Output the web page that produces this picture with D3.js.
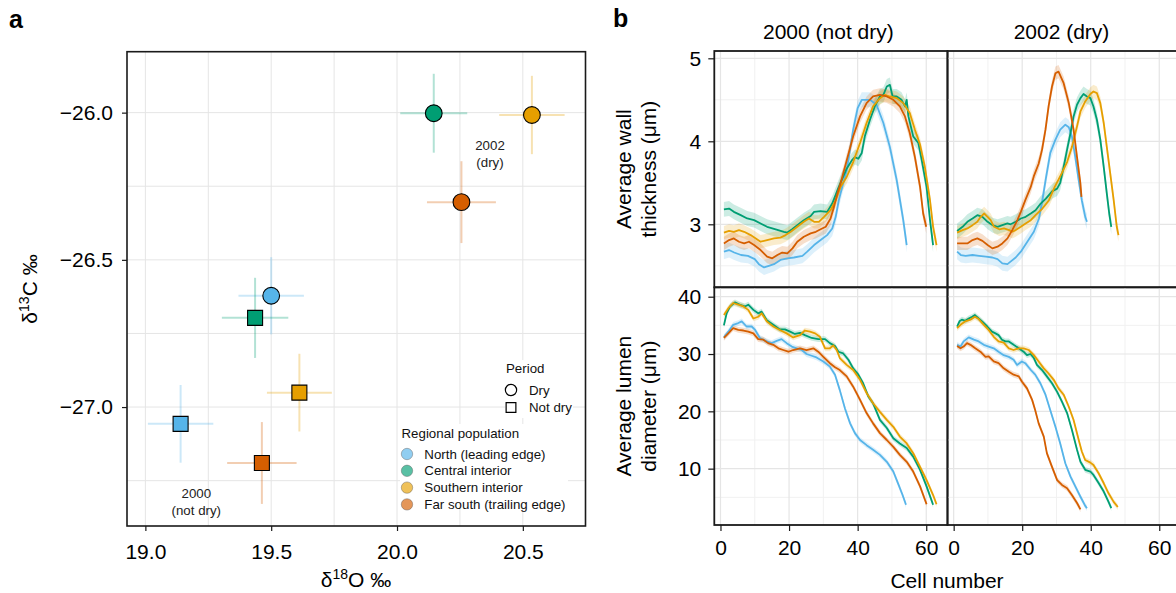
<!DOCTYPE html>
<html>
<head>
<meta charset="utf-8">
<script src="https://cdn.jsdelivr.net/npm/d3@7"></script>
<style>
  html, body { margin: 0; padding: 0; background: #fff; }
  svg { display: block; font-family: "Liberation Sans", Arial, Helvetica, sans-serif; }
</style>
</head>
<body>
<svg id="chart" width="1176" height="593"></svg>
<script>
(function () {
"use strict";

/* ---- data ---- */
var regions = ["North (leading edge)", "Central interior", "Southern interior", "Far south (trailing edge)"],
    regionColors = ["#56B4E9", "#009E73", "#E69F00", "#D55E00"],
    periods = ["Dry", "Not dry"],
    years = ["2000 (not dry)", "2002 (dry)"];

/* panel a: isotope means by region (dry = 2002, not dry = 2000) */
var dry18O   = [19.50, 20.146, 20.536, 20.256],
    dry13C   = [-26.622, -26.002, -26.008, -26.304],
    dry18Oerr = [0.13, 0.133, 0.13, 0.137],
    dry13Cerr = [0.131, 0.134, 0.133, 0.139],
    wet18O   = [19.14, 19.436, 19.612, 19.463],
    wet13C   = [-27.057, -26.697, -26.951, -27.19],
    wet18Oerr = [0.13, 0.132, 0.129, 0.138],
    wet13Cerr = [0.132, 0.136, 0.132, 0.139];

var xTicksA = [19.0, 19.5, 20.0, 20.5],
    yTicksA = [-27.0, -26.5, -26.0];

/* panel b: [cell, value] per region */
var wall2000 = [
  [[1,2.67],[2.5,2.69],[4,2.66],[6,2.63],[8,2.62],[10,2.58],[11.2,2.52],[12.7,2.48],[14.1,2.50],[15.6,2.52],[17.5,2.57],[19.5,2.59],[21.4,2.60],[23.9,2.62],[25.3,2.67],[27.3,2.75],[29.2,2.81],[31.1,2.87],[32.6,2.95],[33.6,3.09],[34.5,3.29],[35.5,3.45],[36.8,3.65],[38.7,4.14],[40,4.40],[41.2,4.50],[43.6,4.50],[45.5,4.44],[47.5,4.22],[49.4,3.93],[51.4,3.53],[53.3,3.05],[54.3,2.75]],
  [[1,3.18],[2.5,3.19],[3.9,3.15],[5.9,3.11],[7.8,3.07],[9.8,3.05],[11.7,3.01],[13.6,2.97],[16.1,2.94],[18.5,2.91],[19.5,2.90],[20.9,2.94],[22.4,2.99],[24.3,3.05],[26.3,3.10],[27.3,3.15],[29.2,3.16],[31.1,3.15],[32.6,3.25],[34.1,3.41],[35.3,3.53],[36.8,3.67],[38.3,3.77],[39.2,3.81],[40.2,3.79],[41.2,3.86],[42.1,4.06],[43.6,4.26],[45,4.42],[46.5,4.54],[47.5,4.56],[48.5,4.66],[49.4,4.68],[50.2,4.54],[51.4,4.54],[52.8,4.50],[53.8,4.42],[54.3,4.50],[54.8,4.30],[56.2,4.06],[57.7,3.98],[58.7,3.77],[60.1,3.45],[61.1,3.05],[62,2.75]],
  [[1,2.90],[2.5,2.92],[3.9,2.91],[5.4,2.93],[6.9,2.91],[8.8,2.87],[10.3,2.83],[11.7,2.79],[13.6,2.81],[15.6,2.83],[17.5,2.84],[19,2.87],[20.5,2.91],[22.4,2.97],[24.3,3.03],[25.8,3.07],[27.3,3.03],[28.7,3.03],[30.2,3.09],[32.1,3.17],[33.6,3.29],[35,3.45],[36.8,3.57],[38.7,3.75],[40.7,3.98],[42.6,4.22],[44.5,4.42],[46.5,4.52],[48,4.56],[49.4,4.54],[51.4,4.52],[53.3,4.46],[55.2,4.34],[56.7,4.14],[58.2,3.96],[59.6,3.69],[61.1,3.29],[62,2.97],[63,2.75]],
  [[1,2.77],[2.5,2.81],[3.9,2.83],[5.4,2.79],[6.9,2.77],[8.3,2.79],[9.8,2.75],[11.7,2.69],[13.6,2.61],[15.1,2.59],[16.6,2.63],[18,2.66],[19.5,2.65],[21,2.71],[22.4,2.79],[24.3,2.85],[26.3,2.89],[27.8,2.91],[29.2,2.94],[30.7,2.97],[32.1,3.07],[33.1,3.21],[34.1,3.37],[35,3.49],[36.8,3.77],[38.7,4.06],[40.7,4.30],[42.6,4.46],[44.5,4.54],[46.5,4.56],[48.5,4.54],[50.4,4.50],[52.3,4.42],[53.8,4.30],[55.2,4.10],[56.7,3.81],[58.2,3.45],[59.1,3.13],[60,2.97]]
];

var wall2002 = [
  [[1,2.67],[2.1,2.63],[3.5,2.62],[5.5,2.63],[7.4,2.62],[9.4,2.61],[11.3,2.60],[12.8,2.58],[14.2,2.53],[15.7,2.52],[16.6,2.55],[18.1,2.60],[19.6,2.67],[21.5,2.79],[23.4,2.91],[24.9,3.07],[25.9,3.29],[26.9,3.55],[28.2,3.86],[29.7,4.02],[31.1,4.14],[32.6,4.20],[33.6,4.17],[34.5,4.06],[35.5,3.81],[36.5,3.53],[37.4,3.29],[38.4,3.09],[38.9,3.03]],
  [[1,2.92],[2.6,2.97],[4,3.03],[5.5,3.07],[6.9,3.11],[8.4,3.09],[9.9,3.03],[11.3,2.99],[12.8,2.97],[14.2,2.99],[15.7,3.01],[16.6,3.00],[18.1,3.03],[19.6,3.07],[21,3.09],[22.5,3.13],[23.9,3.17],[25.4,3.25],[26.9,3.31],[28.8,3.40],[30.2,3.43],[31.1,3.50],[32.1,3.69],[33.1,3.90],[34.1,4.10],[35,4.30],[36,4.44],[37,4.52],[37.9,4.57],[38.9,4.54],[39.9,4.52],[40.8,4.42],[41.8,4.26],[42.8,4.02],[43.8,3.69],[44.7,3.37],[45.4,3.13],[46,2.97]],
  [[1,2.90],[2.6,2.93],[4,2.95],[5.5,2.99],[6.9,3.03],[7.9,3.09],[8.9,3.13],[9.9,3.09],[10.8,3.05],[11.8,2.97],[13.3,2.94],[14.7,2.95],[16.2,2.93],[17.1,2.91],[18.1,2.93],[19.6,2.97],[21,3.01],[22.5,3.05],[23.9,3.11],[25.9,3.19],[27.8,3.29],[29.5,3.45],[31.6,3.62],[33.1,3.75],[34.5,3.93],[36,4.18],[37,4.36],[38.4,4.48],[39.9,4.57],[40.8,4.60],[41.8,4.58],[42.8,4.46],[43.8,4.22],[44.7,3.93],[45.7,3.61],[46.7,3.29],[47.6,2.97],[48.1,2.87]],
  [[1,2.77],[2.6,2.77],[4,2.77],[5.5,2.81],[6.9,2.83],[8.4,2.80],[9.9,2.75],[11.3,2.71],[12.8,2.73],[14.2,2.77],[15.7,2.83],[17.1,2.93],[18.6,3.05],[19.6,3.15],[21,3.30],[22.5,3.45],[23.4,3.58],[24.8,3.73],[25.8,3.90],[26.8,4.14],[27.7,4.42],[28.7,4.66],[29.7,4.82],[30.6,4.84],[32.1,4.70],[33.6,4.46],[35,4.14],[36,3.81],[37,3.49],[37.3,3.33]]
];

var lumen2000 = [
  [[1,32.9],[2.3,33.9],[3.7,35.1],[5.2,35.4],[6.2,35.7],[7.6,34.8],[9.1,34.8],[10.1,34.2],[11.5,32.8],[13.5,32.2],[14.9,31.9],[16.4,32.3],[17.8,32.6],[19.3,31.9],[20.8,31.3],[22.2,31.0],[23.7,30.7],[25.1,30.0],[26.6,29.7],[28,29.4],[30,28.7],[31.9,27.8],[33.4,26.4],[34.8,23.7],[36.3,20.5],[37.8,17.9],[39.2,16.2],[40.7,15.0],[42.6,14.1],[44.5,13.3],[46.5,12.4],[48.5,11.2],[50.4,9.5],[51.8,7.4],[53.1,5.4],[54.1,3.7]],
  [[1,35.0],[1.8,37.1],[2.8,38.3],[4.2,39.0],[5.7,38.6],[7.1,38.3],[8.1,38.6],[9.6,37.7],[11,37.1],[12,37.4],[13.5,35.9],[15.4,35.1],[17.3,34.3],[18.8,34.3],[20.3,33.9],[21.7,33.5],[23.2,33.7],[24.6,33.3],[26.6,32.8],[28.5,32.6],[30.5,32.6],[31.9,31.9],[33.4,31.4],[34.4,30.4],[35.8,30.1],[37.3,29.0],[38.7,27.5],[40.2,26.4],[41.6,24.9],[43.1,22.6],[44.5,21.4],[46.5,18.5],[48.5,17.1],[50.4,15.3],[52.3,14.4],[54.3,13.6],[56.2,12.1],[58.2,9.8],[60.1,6.9],[62,3.7]],
  [[1,36.8],[2.3,38.0],[3.7,38.9],[5.2,38.6],[6.7,38.3],[8.1,37.7],[9.6,36.2],[11,36.5],[12,37.1],[13.5,35.7],[15.4,34.8],[17.3,34.2],[19.3,33.6],[21.2,32.9],[23.2,33.3],[24.6,34.1],[26.1,33.9],[27.6,33.6],[29,33.0],[30.5,31.0],[31.9,31.0],[32.9,31.5],[33.9,30.7],[34.8,29.3],[36.8,28.1],[38.7,27.2],[40.7,25.5],[42.6,23.2],[44.5,21.4],[46.5,19.9],[48.5,18.5],[50.4,17.3],[52.3,15.6],[54.3,14.4],[56.2,12.7],[58.2,10.3],[60.1,8.0],[62,5.4],[63,3.8]],
  [[1,32.8],[2.3,33.6],[3.7,34.5],[5.2,34.2],[6.7,34.1],[8.1,33.9],[9.6,33.6],[11,32.6],[12.5,32.5],[13.9,31.9],[15.4,31.6],[16.9,31.0],[18.3,30.7],[19.8,30.4],[21.2,30.7],[23.2,31.0],[25.1,30.7],[27.1,31.0],[28.5,30.4],[30,29.5],[31.9,28.4],[33.4,27.7],[34.8,27.2],[36.8,26.1],[38.7,24.3],[40.7,22.0],[42.6,19.7],[44.5,17.9],[46.5,16.2],[48.5,15.0],[50.4,13.8],[52.3,12.4],[54.3,11.2],[56.2,9.5],[58.2,6.9],[60.1,3.8]]
];

var lumen2002 = [
  [[1,31.6],[2,31.3],[2.9,32.2],[4.4,32.9],[5.9,32.5],[7.3,32.2],[8.8,31.6],[10.2,31.3],[11.7,31.0],[13.1,30.4],[14.6,29.8],[16.1,29.5],[17.5,29.0],[18.5,28.1],[19.9,28.7],[20.9,28.4],[22.4,27.3],[23.8,26.4],[25.3,24.9],[26.8,22.9],[28.2,20.2],[29.7,17.3],[31.1,14.4],[32.6,10.9],[34.1,8.6],[35.5,6.9],[37,5.1],[38.4,3.5],[38.9,3.1]],
  [[1,34.8],[1.7,35.7],[2.4,36.0],[3.4,35.8],[4.4,36.2],[5.4,36.5],[6.2,36.8],[7.3,36.2],[8.3,35.7],[9.8,34.8],[11.2,33.9],[12.2,33.6],[13.1,33.3],[14.1,32.5],[15.1,32.2],[16.1,32.2],[17.5,31.6],[19,31.0],[20.4,30.4],[21.4,29.8],[22.4,30.0],[23.4,29.3],[24.3,28.1],[25.8,27.2],[27.2,26.1],[28.7,24.9],[30.2,23.4],[31.6,21.7],[33.1,19.7],[34.5,16.8],[36,13.3],[37,11.2],[38.4,9.8],[39.9,9.5],[40.8,8.9],[42.3,7.5],[43.8,6.0],[45.2,4.2],[46,3.1]],
  [[1,34.5],[2,35.1],[3.4,35.7],[4.9,36.0],[6.2,36.5],[7.3,36.1],[8.8,35.1],[10.2,34.2],[11.7,33.0],[13.1,32.2],[14.6,32.0],[16.1,31.0],[17.5,30.7],[19,31.0],[20.4,31.0],[21.9,30.7],[23.4,29.8],[24.8,28.7],[26.3,27.5],[27.7,26.6],[29.2,25.5],[30.6,24.0],[32.1,22.9],[33.6,20.8],[35,18.5],[36.5,15.0],[37.4,13.0],[38.4,11.5],[39.9,11.05],[40.8,10.65],[42.3,9.2],[43.8,7.45],[45.2,5.7],[46.7,4.2],[47.9,3.3]],
  [[1,31.4],[2,31.0],[2.9,31.3],[3.9,31.9],[4.9,31.6],[6.3,31.0],[7.8,30.4],[9.3,29.5],[10.2,29.6],[11.7,28.7],[13.1,28.4],[14.6,27.5],[16.1,26.9],[17.5,26.4],[19,26.1],[19.9,25.2],[21.4,24.0],[22.9,22.0],[23.8,20.2],[24.8,17.9],[26.3,15.6],[27.2,12.7],[28.7,10.3],[30.2,8.0],[31.6,7.15],[33.1,6.6],[34.5,5.4],[36,4.0],[37,2.9]]
];

/* ribbon half widths (standard error) per region */
var wallSe  = [0.09, 0.09, 0.08, 0.08],
    lumenSe = [0.5, 0.5, 0.5, 0.5];

var cellTicks = [0, 20, 40, 60],
    wallTicks = [3, 4, 5],
    lumenTicks = [10, 20, 30, 40];

/* ---- setup ---- */
var svg = d3.select("#chart"),
    ink = "#1a1a1a",
    gridMajor = "#e5e5e5",
    gridMinor = "#f1f1f1";

svg.append("rect").attr("width", 1176).attr("height", 593).attr("fill", "#fff");

/* styles an axis group produced by d3.axis */
var styleAxis = function (g, size) {
    g.select(".domain").remove();
    g.selectAll(".tick line").attr("stroke", ink).attr("stroke-width", 1.2);
    g.selectAll(".tick text")
        .attr("fill", "#000")
        .style("font-size", size + "px")
        .style("font-family", "'Liberation Sans', Arial, sans-serif");
};

/* ================= panel a ================= */
var xA = d3.scaleLinear().domain([18.927, 20.749]).range([127, 585.5]),
    yA = d3.scaleLinear().domain([-27.404, -25.793]).range([526, 51.7]),
    gA = svg.append("g");

/* grid */
gA.selectAll("line.vgrid").data(d3.range(19, 20.75, 0.25)).enter()
    .append("line")
    .attr("x1", function (d) { return xA(d); }).attr("x2", function (d) { return xA(d); })
    .attr("y1", yA.range()[0]).attr("y2", yA.range()[1])
    .attr("stroke", gridMajor).attr("stroke-width", 1);
gA.selectAll("line.hgrid").data(d3.range(-27.25, -25.9, 0.25)).enter()
    .append("line")
    .attr("y1", function (d) { return yA(d); }).attr("y2", function (d) { return yA(d); })
    .attr("x1", xA.range()[0]).attr("x2", xA.range()[1])
    .attr("stroke", gridMajor).attr("stroke-width", 1);

/* points as rows */
var isoPts = [];
regions.forEach(function (r, i) {
    isoPts.push({ region: i, period: "Dry", x: dry18O[i], y: dry13C[i], ex: dry18Oerr[i], ey: dry13Cerr[i] });
    isoPts.push({ region: i, period: "Not dry", x: wet18O[i], y: wet13C[i], ex: wet18Oerr[i], ey: wet13Cerr[i] });
});

/* error bars */
var eb = gA.append("g").attr("stroke-width", 2).attr("stroke-opacity", 0.3);
isoPts.forEach(function (p) {
    eb.append("line")
        .attr("x1", xA(p.x - p.ex)).attr("x2", xA(p.x + p.ex))
        .attr("y1", yA(p.y)).attr("y2", yA(p.y))
        .attr("stroke", regionColors[p.region]);
    eb.append("line")
        .attr("x1", xA(p.x)).attr("x2", xA(p.x))
        .attr("y1", yA(p.y - p.ey)).attr("y2", yA(p.y + p.ey))
        .attr("stroke", regionColors[p.region]);
});

/* markers */
var sym = { "Dry": d3.symbolCircle, "Not dry": d3.symbolSquare },
    symSize = { "Dry": 220, "Not dry": 225 };
gA.append("g").selectAll("path").data(isoPts).enter()
    .append("path")
    .attr("transform", function (p) { return "translate(" + xA(p.x) + "," + yA(p.y) + ")"; })
    .attr("d", function (p) { return d3.symbol().type(sym[p.period]).size(symSize[p.period])(); })
    .attr("fill", function (p) { return regionColors[p.region]; })
    .attr("stroke", "#000").attr("stroke-width", 1.1);

/* annotations */
var note = function (x, y, lines) {
    var t = gA.append("text").attr("text-anchor", "middle")
        .attr("font-size", 13.3).attr("fill", "#222");
    lines.forEach(function (l, i) {
        t.append("tspan").attr("x", x).attr("y", y + i * 16.6).text(l);
    });
};
note(490, 150, ["2002", "(dry)"]);
note(196.3, 498, ["2000", "(not dry)"]);

/* legends */
var lg = gA.append("g").attr("font-size", 13.3).attr("fill", "#111");
lg.append("rect").attr("x", 505).attr("y", 360).attr("width", 68).attr("height", 58).attr("fill", "#fff");
lg.append("rect").attr("x", 400).attr("y", 424).attr("width", 168).attr("height", 85).attr("fill", "#fff");
lg.append("text").attr("x", 506).attr("y", 372.5).text("Period");
periods.forEach(function (p, i) {
    var cy = 390 + i * 17.5;
    lg.append("path")
        .attr("transform", "translate(511," + cy + ")")
        .attr("d", d3.symbol().type(sym[p]).size(p === "Dry" ? 100 : 95)())
        .attr("fill", "#fff").attr("stroke", "#000").attr("stroke-width", 1.2);
    lg.append("text").attr("x", 529).attr("y", cy + 4.6).text(p);
});
lg.append("text").attr("x", 401.5).attr("y", 437.5).text("Regional population");
regions.forEach(function (r, i) {
    var cy = 454 + i * 16.8;
    lg.append("circle").attr("cx", 407).attr("cy", cy).attr("r", 5.7)
        .attr("fill", regionColors[i]).attr("fill-opacity", 0.65)
        .attr("stroke", "#555").attr("stroke-opacity", 0.4).attr("stroke-width", 1);
    lg.append("text").attr("x", 424.3).attr("y", cy + 4.6).text(r);
});

/* frame and axes */
gA.append("rect")
    .attr("x", 127).attr("y", 51.7).attr("width", 585.5 - 127).attr("height", 526 - 51.7)
    .attr("fill", "none").attr("stroke", ink).attr("stroke-width", 1.6);

gA.append("g").attr("transform", "translate(127,0)")
    .call(d3.axisLeft(yA).tickValues(yTicksA).tickFormat(d3.format(".1f")).tickSize(5).tickPadding(9))
    .call(styleAxis, 21);
gA.append("g").attr("transform", "translate(0,526)")
    .call(d3.axisBottom(xA).tickValues(xTicksA).tickFormat(d3.format(".1f")).tickSize(5).tickPadding(13))
    .call(styleAxis, 21);

var yTitleA = gA.append("text").attr("transform", "translate(37,289) rotate(-90)")
    .attr("text-anchor", "middle").attr("font-size", 21).attr("fill", "#000");
yTitleA.append("tspan").text("δ");
yTitleA.append("tspan").attr("dy", -8).attr("font-size", 14).text("13");
yTitleA.append("tspan").attr("dy", 8).text("C ‰");

var xTitleA = gA.append("text").attr("x", 356).attr("y", 587)
    .attr("text-anchor", "middle").attr("font-size", 21).attr("fill", "#000");
xTitleA.append("tspan").text("δ");
xTitleA.append("tspan").attr("dy", -8).attr("font-size", 14).text("18");
xTitleA.append("tspan").attr("dy", 8).text("O ‰");

svg.append("text").attr("x", 9).attr("y", 28).attr("font-size", 25)
    .attr("font-weight", "bold").text("a");

/* ================= panel b ================= */
var colX = [[714.3, 947.5], [947.5, 1180.5]],
    xB = colX.map(function (r) { return d3.scaleLinear().domain([-1.8, 66.2]).range(r); }),
    rows = [
        { y: d3.scaleLinear().domain([2.241, 5.088]).range([287.3, 51]),
          data: [wall2000, wall2002], se: wallSe, ticks: wallTicks,
          minor: [2.5, 3.5, 4.5], title: ["Average wall", "thickness (μm)"] },
        { y: d3.scaleLinear().domain([0.17, 41.64]).range([525, 287.3]),
          data: [lumen2000, lumen2002], se: lumenSe, ticks: lumenTicks,
          minor: [5, 15, 25, 35], title: ["Average lumen", "diameter (μm)"] }
    ],
    gB = svg.append("g");

rows.forEach(function (row, ri) {
    var y = row.y, yr = y.range();
    xB.forEach(function (x, ci) {
        var cell = gB.append("g"), xr = x.range();

        /* grid: minor then major */
        [10, 30, 50].forEach(function (v) {
            cell.append("line").attr("x1", x(v)).attr("x2", x(v)).attr("y1", yr[0]).attr("y2", yr[1])
                .attr("stroke", gridMinor).attr("stroke-width", 1);
        });
        row.minor.forEach(function (v) {
            cell.append("line").attr("y1", y(v)).attr("y2", y(v)).attr("x1", xr[0]).attr("x2", xr[1])
                .attr("stroke", gridMinor).attr("stroke-width", 1);
        });
        cellTicks.forEach(function (v) {
            cell.append("line").attr("x1", x(v)).attr("x2", x(v)).attr("y1", yr[0]).attr("y2", yr[1])
                .attr("stroke", gridMajor).attr("stroke-width", 1.2);
        });
        row.ticks.forEach(function (v) {
            cell.append("line").attr("y1", y(v)).attr("y2", y(v)).attr("x1", xr[0]).attr("x2", xr[1])
                .attr("stroke", gridMajor).attr("stroke-width", 1.2);
        });

        var series = row.data[ci];

        /* ribbons */
        series.forEach(function (pts, k) {
            var se = row.se[k];
            cell.append("path")
                .datum(pts)
                .attr("d", d3.area()
                    .x(function (d) { return x(d[0]); })
                    .y0(function (d) { return y(d[1] - se); })
                    .y1(function (d) { return y(d[1] + se); }))
                .attr("fill", regionColors[k]).attr("fill-opacity", 0.2);
        });
        /* lines */
        series.forEach(function (pts, k) {
            cell.append("path")
                .datum(pts)
                .attr("d", d3.line()
                    .x(function (d) { return x(d[0]); })
                    .y(function (d) { return y(d[1]); }))
                .attr("fill", "none").attr("stroke", regionColors[k])
                .attr("stroke-width", 1.8).attr("stroke-linejoin", "round");
        });

        cell.append("rect")
            .attr("x", xr[0]).attr("y", yr[1]).attr("width", xr[1] - xr[0]).attr("height", yr[0] - yr[1])
            .attr("fill", "none").attr("stroke", ink).attr("stroke-width", 1.8);

        if (ri === 1) {
            cell.append("g").attr("transform", "translate(0," + yr[0] + ")")
                .call(d3.axisBottom(x).tickValues(cellTicks).tickFormat(d3.format("d")).tickSize(6).tickPadding(9))
                .call(styleAxis, 21);
        }
        if (ri === 0) {
            cell.append("text").attr("x", (xr[0] + xr[1]) / 2 - 2.5).attr("y", 39)
                .attr("text-anchor", "middle").attr("font-size", 21).attr("fill", "#000")
                .text(years[ci]);
        }
    });

    gB.append("g").attr("transform", "translate(714.3,0)")
        .call(d3.axisLeft(y).tickValues(row.ticks).tickFormat(d3.format("d")).tickSize(6).tickPadding(7))
        .call(styleAxis, 21);

    var mid = (yr[0] + yr[1]) / 2,
        t = gB.append("text").attr("transform", "translate(631," + mid + ") rotate(-90)")
            .attr("text-anchor", "middle").attr("font-size", 21).attr("fill", "#000");
    t.append("tspan").attr("x", 0).attr("dy", 0).text(row.title[0]);
    t.append("tspan").attr("x", 0).attr("dy", 25).text(row.title[1]);
});

gB.append("text").attr("x", 947).attr("y", 588).attr("text-anchor", "middle")
    .attr("font-size", 21).attr("fill", "#000").text("Cell number");

svg.append("text").attr("x", 613).attr("y", 27).attr("font-size", 25)
    .attr("font-weight", "bold").text("b");

})();
</script>
</body>
</html>
